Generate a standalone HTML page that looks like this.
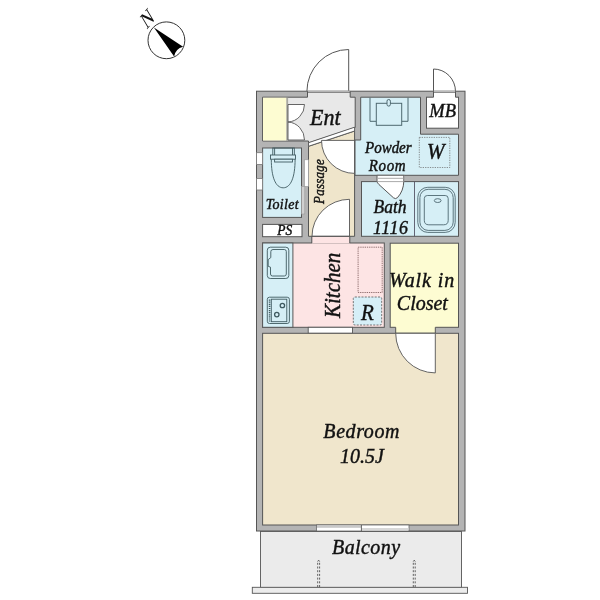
<!DOCTYPE html>
<html><head><meta charset="utf-8">
<style>
html,body{margin:0;padding:0;background:#fff;width:600px;height:600px;overflow:hidden}
svg{display:block;will-change:transform}
text{font-family:"Liberation Serif",serif;font-style:italic;fill:#111;stroke:#111;stroke-width:0.4}
</style></head>
<body>
<svg width="600" height="600" viewBox="0 0 600 600">
<rect width="600" height="600" fill="#fff"/>

<!-- compass -->
<circle cx="166.4" cy="40.3" r="18.4" fill="#fff" stroke="#333" stroke-width="1"/>
<path d="M153.9,27.4 L183.1,46.7 Q175.5,48.5 174.1,56.6 Z" fill="#000"/>
<g transform="translate(146.6,18.2) scale(1.14) translate(-146.6,-18.2)"><text transform="matrix(0.52,-0.62,0.49,0.82,146.8,28.3)" font-size="20" style="font-style:normal;stroke:none">N</text></g>

<!-- entry door swing -->
<path d="M348.7,49.5 V91.5 M306.9,91.5 A41.8,42 0 0,1 348.7,49.5" fill="none" stroke="#555" stroke-width="1"/>
<!-- MB door swing -->
<path d="M433.5,69 V91.5 M433.5,69 A22,22.5 0 0,1 455.5,91.5" fill="none" stroke="#555" stroke-width="1"/>

<!-- building footprint -->
<rect x="256.5" y="91.2" width="208.5" height="439.8" fill="#b4b4b4" stroke="#555" stroke-width="1"/>

<!-- Ent floor -->
<path d="M262.6,97.2 H355.2 V127.5 L308.5,143 V141 H262.6 Z" fill="#e8e8e8" stroke="#555" stroke-width="1"/>
<!-- shoe closet -->
<rect x="263" y="97.7" width="23.5" height="42.8" fill="#fdfcd2"/>
<rect x="286.3" y="97.7" width="1.8" height="43" fill="#a8a8a0"/>
<path d="M288,104.5 H304.5 A17.5,17.5 0 0,1 288,122 A17.5,18 0 0,1 304.5,140 H288 Z" fill="#fff" stroke="#555" stroke-width="0.9"/>

<!-- passage -->
<path d="M308.5,146.3 L354.6,131 V236.3 H308.5 Z" fill="#efe5cb" stroke="#555" stroke-width="1"/>
<path d="M308.5,142.7 L354.6,127.2 V131 L308.5,146.3 Z" fill="#fff" stroke="#555" stroke-width="0.9"/>
<path d="M354.6,140.4 H321.5 A33.1,33 0 0,0 354.6,173.4 Z" fill="#fff" stroke="#555" stroke-width="0.9"/>
<path d="M349.5,236.3 V199.3 A37.5,37 0 0,0 312,236.3 Z" fill="#fff" stroke="#555" stroke-width="0.9"/>

<!-- toilet -->
<rect x="262.6" y="148" width="38.9" height="69.4" fill="#d6eff6" stroke="#555" stroke-width="1"/>
<rect x="256.5" y="152.7" width="6.1" height="11.7" fill="#fff" stroke="#777" stroke-width="0.8"/>
<rect x="256.5" y="178.4" width="6.1" height="11.6" fill="#fff" stroke="#777" stroke-width="0.8"/>
<rect x="304.6" y="159.8" width="3.9" height="26.6" fill="#fff" stroke="#999" stroke-width="0.6"/>
<rect x="301.5" y="186.4" width="3.3" height="27.6" fill="#d0d0d0" stroke="#999" stroke-width="0.6"/>
<g fill="none" stroke="#3f5a60" stroke-width="0.9">
<rect x="272.8" y="148" width="21.5" height="14"/>
<path d="M274.6,148 V155 M292.5,148 V155"/>
<path d="M271.3,159.2 C271.3,177 275.5,187.8 283.2,187.8 C290.9,187.8 295.1,177 295.1,159.2" fill="#d6eff6"/>
<rect x="270.5" y="155" width="25" height="4.2" fill="#d6eff6"/>
<rect x="274.6" y="159.2" width="17.9" height="2.8" fill="#d6eff6"/>
</g>

<!-- PS -->
<rect x="262.6" y="224.4" width="39.4" height="12.3" fill="#fff" stroke="#555" stroke-width="1"/>

<!-- kitchen -->
<rect x="262.6" y="243" width="121.7" height="84.3" fill="#fde4e4" stroke="#555" stroke-width="1"/>
<rect x="262.6" y="243" width="30.3" height="84.3" fill="#d6eff6" stroke="#555" stroke-width="1"/>
<rect x="312" y="236.8" width="37.5" height="6.7" fill="#fde4e4"/>
<line x1="312" y1="236.3" x2="349.5" y2="236.3" stroke="#555" stroke-width="0.9"/>
<path d="M311.8,236.3 V243 M349.8,236.3 V243" stroke="#555" stroke-width="1" fill="none"/>
<rect x="308.2" y="327.3" width="44.3" height="6" fill="#fff" stroke="#555" stroke-width="0.9"/>
<rect x="358.1" y="247.2" width="24.1" height="45.3" fill="none" stroke="#846464" stroke-width="0.9" stroke-dasharray="1.3,0.9"/>
<rect x="353.3" y="297" width="28.4" height="28" rx="1.6" fill="#d6eff7" stroke="#666" stroke-width="0.9" stroke-dasharray="2,1.3"/>
<g fill="none" stroke="#3f5a60" stroke-width="0.9">
<rect x="267.3" y="247.2" width="21.5" height="31.3" rx="3"/>
<path d="M273,249.5 H284.3 Q286.3,249.5 286.3,251.5 V274 Q286.3,276 284.3,276 H272.5 Q270.5,276 270.5,274 V267.2 L268.2,266.3 V259.6 L270.8,257.6 V251.7 Q270.8,249.5 273,249.5 Z"/>
<rect x="267.3" y="297.2" width="22.1" height="26.3" rx="2.2"/>
<rect x="271.3" y="299.2" width="15.5" height="22.5"/>
<circle cx="282.4" cy="305.5" r="2.2" stroke-width="1.3"/>
<circle cx="276.8" cy="314.6" r="2.2" stroke-width="1.3"/>
<line x1="269.6" y1="299.5" x2="269.6" y2="321.5" stroke-dasharray="1.2,0.9" stroke-width="1.6"/>
</g>

<!-- powder room -->
<path d="M360.7,97.2 H420.5 V134.2 H458.5 V175.3 H355 V140 H360.7 Z" fill="#d6eff6" stroke="#555" stroke-width="1"/>
<rect x="426.5" y="97.2" width="32" height="31" fill="#fff" stroke="#555" stroke-width="1"/>
<rect x="419.3" y="137.4" width="30.5" height="30.1" fill="none" stroke="#666" stroke-width="0.7" stroke-dasharray="1.3,1.1"/>
<g fill="none" stroke="#4e6870" stroke-width="1">
<path d="M370,97.7 V121.3 H376.3 M408,97.7 V121.3 H401.7"/>
<rect x="376.3" y="103.3" width="25.4" height="22" fill="#d6eff6"/>
<rect x="387" y="99.5" width="3.4" height="6.6" rx="1.7" fill="#d6eff6"/>
</g>

<!-- bath -->
<rect x="361.5" y="181.6" width="97" height="54.7" fill="#d6eff6" stroke="#555" stroke-width="1"/>
<line x1="414.5" y1="181.6" x2="414.5" y2="236.3" stroke="#556" stroke-width="0.9"/>
<rect x="376.8" y="175.3" width="27.5" height="6.3" fill="#fff"/>
<path d="M377,175.3 V180.5 Q377,183 379,184.6 L393.5,197.8 Q395.5,199.5 397.5,197.6 Q403.6,191 403.8,181 V175.3" fill="#fff" stroke="#444" stroke-width="0.9"/>
<path d="M377.5,178.3 H403.4 M377.5,181.6 H403.4" stroke="#aaa" stroke-width="1" fill="none"/>
<path d="M376.8,175.3 H404.3" stroke="#555" stroke-width="0.9"/>
<g fill="none" stroke="#4e6870" stroke-width="0.9">
<rect x="417.8" y="187.3" width="37.4" height="45.1" rx="10" ry="10"/>
<rect x="419.9" y="189.3" width="33.3" height="41.1" rx="8.3" ry="8.3"/>
<path d="M424.3,198.5 Q424.3,195.5 427.3,195.5 H445.2 Q448.2,195.5 448.2,198.5 V220.3 Q448.2,224.8 443.7,224.8 H428.8 Q424.3,224.8 424.3,220.3 Z"/>
<ellipse cx="437.7" cy="200.6" rx="3.4" ry="1.9"/>
</g>

<!-- walk in closet -->
<rect x="390.2" y="243.2" width="68.3" height="84.1" fill="#fdfcd2" stroke="#555" stroke-width="1"/>
<rect x="395.7" y="326" width="39.6" height="7.2" fill="#fdfcd2"/>
<path d="M395.7,327.3 V333.3 M435.3,327.3 V333.3" stroke="#555" stroke-width="1" fill="none"/>
<path d="M435.3,333.3 H395.7 A39.6,39.6 0 0,0 435.3,372.9 Z" fill="#fff" stroke="#555" stroke-width="0.9"/>

<!-- bedroom -->
<rect x="262.6" y="333.3" width="195.9" height="191.7" fill="#f0e6cc" stroke="#555" stroke-width="1"/>
<path d="M435.3,333.3 V372.9 A39.6,39.6 0 0,1 395.7,333.3 Z" fill="#fff" stroke="#555" stroke-width="0.9"/>
<!-- balcony window -->
<rect x="316.4" y="525" width="92.6" height="6" fill="#fff" stroke="#666" stroke-width="0.8"/>
<rect x="317" y="525.5" width="44.4" height="2.3" fill="#c8c8c8"/>
<rect x="361.4" y="528" width="47" height="2.3" fill="#d8d8d8"/>
<line x1="361.4" y1="525" x2="361.4" y2="531" stroke="#555" stroke-width="0.9"/>

<!-- balcony -->
<rect x="260.5" y="531.5" width="201" height="56" fill="#ebebeb" stroke="#555" stroke-width="0.9"/>
<rect x="252.3" y="587.3" width="215.2" height="6" fill="#ececec" stroke="#555" stroke-width="0.9"/>
<g fill="none" stroke="#505050" stroke-width="0.9">
<path d="M317.7,587 V561 M319.6,587 V561 M413.3,587 V561 M415.2,587 V561" stroke-dasharray="2,1.7"/>
<path d="M317.7,561.5 Q318.65,558.8 319.6,561.5 M413.3,561.5 Q414.25,558.8 415.2,561.5"/>
</g>

<!-- entry opening -->
<rect x="307.5" y="91.7" width="42.7" height="6.3" fill="#e8e8e8"/>
<rect x="307.5" y="90.7" width="42.7" height="1.6" fill="#bdbdbd"/>
<path d="M307.5,92.4 H350.2" stroke="#666" stroke-width="0.8" fill="none"/>
<path d="M307.5,91.2 V97.2 M350.2,91.2 V97.2" stroke="#555" stroke-width="1" fill="none"/>
<!-- MB opening -->
<rect x="433.5" y="91.7" width="22" height="6.3" fill="#fff"/>
<rect x="433.5" y="90.7" width="22" height="1.6" fill="#c4c4c4"/>
<path d="M433.5,92.4 H455.5" stroke="#666" stroke-width="0.8" fill="none"/>
<path d="M433.5,91.2 V97.2 M455.5,91.2 V97.2" stroke="#555" stroke-width="1" fill="none"/>
<!-- labels -->
<text transform="translate(325.25,124.5) scale(1,1.06)" font-size="22" text-anchor="middle">Ent</text>
<text transform="translate(388.3,152.5) scale(1,1.06)" font-size="15" text-anchor="middle">Powder</text>
<text transform="translate(387.5,170.8) scale(1,1.06)" font-size="15" letter-spacing="0.6" text-anchor="middle">Room</text>
<text transform="translate(435.8,159.2) scale(1,1.06)" font-size="21" text-anchor="middle">W</text>
<text transform="translate(442.7,116.7) scale(1,1.06)" font-size="18.5" text-anchor="middle">MB</text>
<text transform="translate(323.7,181.45) rotate(-90) scale(1,1.06)" font-size="13" letter-spacing="0.25" text-anchor="middle">Passage</text>
<text transform="translate(282.35,209.25) scale(1,1.06)" font-size="14" letter-spacing="0.3" text-anchor="middle">Toilet</text>
<text transform="translate(284.75,235.1) scale(1,1.06)" font-size="13.5" text-anchor="middle">PS</text>
<text transform="translate(390,212.9) scale(1,1.06)" font-size="17.5" text-anchor="middle">Bath</text>
<text transform="translate(390.8,233.5) scale(1,1.06)" font-size="18" letter-spacing="0.6" text-anchor="middle">1116</text>
<text transform="translate(340.3,285.35) rotate(-90) scale(1,1.06)" font-size="21" text-anchor="middle">Kitchen</text>
<text transform="translate(367.35,320) scale(1,1.06)" font-size="21" text-anchor="middle">R</text>
<text transform="translate(422,286.7) scale(1,1.06)" font-size="20" letter-spacing="0.9" text-anchor="middle">Walk in</text>
<text transform="translate(422.35,310.2) scale(1,1.06)" font-size="20" text-anchor="middle">Closet</text>
<text transform="translate(361.7,438.3) scale(1,1.06)" font-size="20" letter-spacing="0.6" text-anchor="middle">Bedroom</text>
<text transform="translate(362,462.5) scale(1,1.06)" font-size="20" text-anchor="middle">10.5J</text>
<text transform="translate(366.25,554) scale(1,1.06)" font-size="20" letter-spacing="0.4" text-anchor="middle">Balcony</text>
</svg>
</body></html>
